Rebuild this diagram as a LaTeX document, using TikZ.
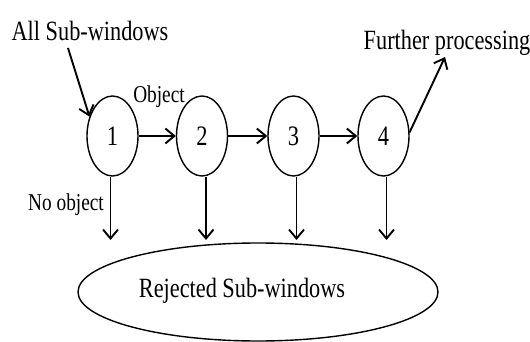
\documentclass[tikz,border=0pt]{standalone}
\usepackage{fontspec}
\setmainfont{Liberation Serif}
\usetikzlibrary{arrows.meta,shapes.geometric}
\newcommand{\tallText}[1]{\scalebox{1}[1.25]{#1}}
\begin{document}
\begin{tikzpicture}[x=1pt,y=-1pt,
  stage/.style={draw,ellipse,minimum width=51pt,minimum height=80pt,line width=1.4pt,inner sep=0pt,font=\fontsize{22.5}{24}\selectfont},
  lbl/.style={inner sep=0pt,font=\fontsize{22.3}{24}\selectfont},
  small/.style={inner sep=0pt,font=\fontsize{19.3}{22}\selectfont},
  arr/.style={line width=1.9pt,-{Straight Barb[length=9pt,width=15pt,line width=1.9pt]}}]
\useasboundingbox (0,0) rectangle (530,342);
\fill[white] (0,0) rectangle (530,342);
% stages
\node[stage] (c1) at (112.5,136) {\tallText{1}};
\node[stage] (c2) at (202,136) {\tallText{2}};
\node[stage] (c3) at (293.5,136) {\tallText{3}};
\node[stage] (c4) at (383.5,136) {\tallText{4}};
% rejected
\node[draw,ellipse,line width=1.4pt,minimum width=360pt,minimum height=98pt,inner sep=0pt] (rej) at (258,292) {};
\node[lbl] (rejtxt) at (242,291) {\tallText{Rejected Sub-windows}};
% labels
\node[lbl] (all) at (90,31) {\tallText{All Sub-windows}};
\node[lbl] (fur) at (447,43) {\tallText{Further processing}};
\node[small] (obj) at (159,97) {\tallText{Object}};
\node[small] (noobj) at (66,205) {\tallText{No object}};
% free ends
\coordinate (allstart) at (68,48);
\coordinate (furend) at (445,57);
\coordinate (rejtop) at (0,240);
% connectors
\draw[arr] (allstart) -- (c1.140);
\draw[arr] (c1.east) -- (c2.west);
\draw[arr] (c2.east) -- (c3.west);
\draw[arr] (c3.east) -- (c4.west);
\draw[arr] (c4.8) -- (furend);
\draw[arr] ([xshift=-2pt]c1.south) -- ([xshift=-2pt]c1.south |- rejtop);
\draw[arr] ([xshift=4pt]c2.south) -- ([xshift=4pt]c2.south |- rejtop);
\draw[arr] ([xshift=3pt]c3.south) -- ([xshift=3pt]c3.south |- rejtop);
\draw[arr] ([xshift=3pt]c4.south) -- ([xshift=3pt]c4.south |- rejtop);
\end{tikzpicture}
\end{document}
